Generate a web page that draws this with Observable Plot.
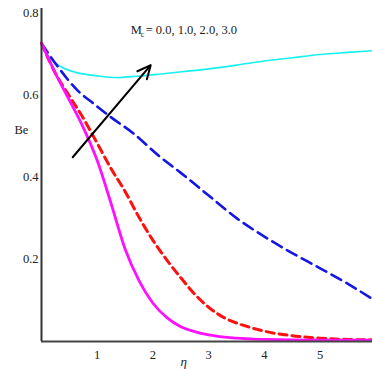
<!DOCTYPE html>
<html><head><meta charset="utf-8">
<script src="https://cdn.jsdelivr.net/npm/d3@7"></script>
<script src="https://cdn.jsdelivr.net/npm/@observablehq/plot@0.6"></script>
<style>
body{margin:0;background:#fff;}
svg{font-family:"Liberation Serif","Times New Roman",serif;}
</style></head>
<body><div id="chart"></div>
<script>
const etaMagenta = [0,0.25,0.5,0.75,1,1.25,1.5,1.75,2,2.25,2.5,2.75,3,3.5,4,5,5.92];
const beMagenta  = [0.725,0.652,0.587,0.52,0.44,0.335,0.225,0.148,0.093,0.058,0.036,0.024,0.016,0.008,0.005,0.003,0.003];
const etaRed = [0,0.25,0.5,0.75,1,1.25,1.5,1.75,2,2.25,2.5,2.75,3,3.25,3.5,3.75,4,4.5,5,5.5,5.92];
const beRed  = [0.725,0.652,0.597,0.543,0.482,0.42,0.365,0.302,0.246,0.198,0.155,0.115,0.083,0.06,0.045,0.034,0.025,0.014,0.008,0.005,0.004];
const etaBlue = [0,0.3,0.65,0.93,1.25,1.65,2.1,2.5,3,3.5,4,4.5,5,5.5,5.92];
const beBlue  = [0.725,0.667,0.61,0.579,0.545,0.506,0.452,0.41,0.355,0.3,0.255,0.215,0.178,0.14,0.105];
const etaCyan = [0,0.15,0.35,0.6,1,1.35,1.7,2.1,2.6,3,3.5,4,4.5,5,5.5,5.92];
const beCyan  = [0.725,0.69,0.668,0.655,0.646,0.642,0.645,0.65,0.657,0.663,0.672,0.682,0.69,0.698,0.703,0.707];
const xTicks = [1,2,3,4,5];
const yTicks = [0.2,0.4,0.6,0.8];
const legendText = "= 0.0, 1.0, 2.0, 3.0";
const arrow = [{x1:0.56,y1:0.448,x2:1.96,y2:0.672}];

const mk = (xs, ys) => xs.map((x,i)=>({x, y: ys[i]}));

const chart = Plot.plot({
  width: 372, height: 369,
  marginLeft: 41, marginRight: 0, marginTop: 12, marginBottom: 28,
  x: {domain:[0,5.94]},
  y: {domain:[0,0.8]},
  style: {fontFamily:'"Liberation Serif","Times New Roman",serif', fontSize:"12.5px", color:"#222", background:"#fff"},
  marks: [
    Plot.axisX(xTicks, {tickSize:0, tickPadding:9, fontSize:12.5, label:null}),
    Plot.axisY(yTicks, {tickSize:0, tickPadding:3, fontSize:12.5, label:null, tickFormat:d=>d.toFixed(1)}),
    Plot.line(mk(etaCyan,beCyan), {x:"x", y:"y", stroke:"#16f0f0", strokeWidth:1.6, curve:"monotone-x"}),
    Plot.line(mk(etaBlue,beBlue), {x:"x", y:"y", stroke:"#1515e6", strokeWidth:2.6, strokeDasharray:"11,6", curve:"monotone-x"}),
    Plot.line(mk(etaRed,beRed), {x:"x", y:"y", stroke:"#ff1010", strokeWidth:3, strokeDasharray:"8,5", curve:"monotone-x"}),
    Plot.line(mk(etaMagenta,beMagenta), {x:"x", y:"y", stroke:"#ff10ff", strokeWidth:2.8, curve:"monotone-x"}),
    Plot.ruleX([0], {y1:0, y2:0.81, stroke:"#333", strokeWidth:2}),
    Plot.ruleY([0], {stroke:"#444", strokeWidth:2}),
    Plot.arrow(arrow, {x1:"x1", y1:"y1", x2:"x2", y2:"y2", stroke:"#000", strokeWidth:2, headLength:11, headAngle:50}),
    Plot.text(["Be"], {frameAnchor:"left", dx:-27, dy:-47, textAnchor:"start", fontSize:12.5, fill:"#222"}),
    Plot.text(["\u03B7"], {x:[2.55], y:[0], dy:20, fontSize:13, fontStyle:"italic", fill:"#223"}),
    Plot.text(["M"], {x:[1.6], y:[0.757], textAnchor:"start", fontSize:12.5, fill:"#222"}),
    Plot.text(["c"], {x:[1.6], y:[0.757], dx:10, dy:4, textAnchor:"start", fontSize:8, fill:"#222"}),
    Plot.text([legendText], {x:[1.6], y:[0.757], dx:15, textAnchor:"start", fontSize:12.5, fill:"#222"})
  ]
});
document.getElementById("chart").appendChild(chart);
</script></body></html>
